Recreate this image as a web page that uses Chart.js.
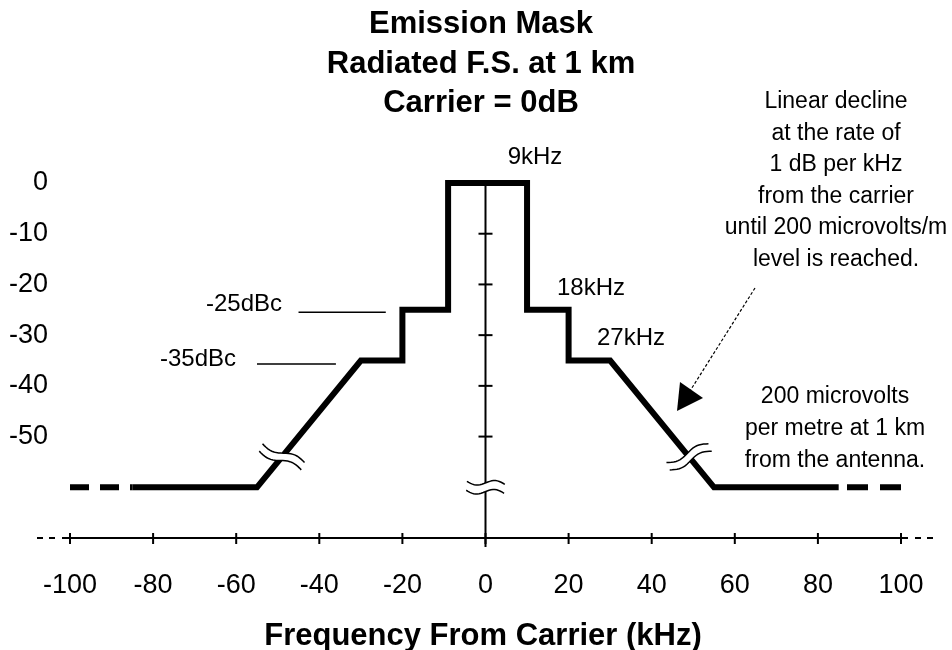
<!DOCTYPE html>
<html>
<head>
<meta charset="utf-8">
<script src="https://cdn.jsdelivr.net/npm/chart.js@4.4.1/dist/chart.umd.min.js"></script>
<style>
  html, body { margin: 0; padding: 0; background: #fff; }
  #wrap { width: 952px; height: 650px; }
</style>
</head>
<body>
<div id="wrap"><canvas id="mask" width="952" height="650"></canvas></div>
<script>
// mask outline (kHz from carrier, dB relative to carrier)
const maskFreq = [-85, -55, -30, -20, -20, -9, -9, 10, 10, 20, 20, 30, 55, 85];
const maskLevel = [-60, -60, -35, -35, -25, -25, 0, 0, -25, -25, -35, -35, -60, -60];
// dashed continuation at the floor
const tailLeftFreq = [-100, -85];
const tailRightFreq = [100, 85];
const tailLevel = [-60, -60];

const xTickValues = [-100, -80, -60, -40, -20, 0, 20, 40, 60, 80, 100];
const yTickValues = [0, -10, -20, -30, -40, -50];

const titleLines = ['Emission Mask', 'Radiated F.S. at 1 km', 'Carrier = 0dB'];
const axisTitle = 'Frequency From Carrier (kHz)';
const declineNote = ['Linear decline', 'at the rate of', '1 dB per kHz', 'from the carrier', 'until 200 microvolts/m', 'level is reached.'];
const floorNote = ['200 microvolts', 'per metre at 1 km', 'from the antenna.'];

const toPoints = (xs, ys) => xs.map((v, i) => ({ x: v, y: ys[i] }));

const TEXT_FONT = '"Liberation Sans", Arial, sans-serif';

function drawBreak(ctx, cx, cy, angle, len, gap) {
    ctx.save();
    ctx.translate(cx, cy);
    ctx.rotate(angle);
    const amp = 3;
    const curve = (off, reverse) => {
        const n = 20;
        for (let i = 0; i <= n; i++) {
            const k = reverse ? n - i : i;
            const t = -len / 2 + len * k / n;
            const yy = off - amp * Math.sin(2 * Math.PI * t / len);
            if (i === 0 && !reverse) ctx.moveTo(t, yy); else ctx.lineTo(t, yy);
        }
    };
    ctx.beginPath();
    curve(-gap / 2, false);
    curve(gap / 2, true);
    ctx.closePath();
    ctx.fillStyle = '#fff';
    ctx.fill();
    ctx.strokeStyle = '#000';
    ctx.lineWidth = 1.5;
    ctx.beginPath(); curve(-gap / 2, false); ctx.stroke();
    ctx.beginPath(); curve(gap / 2, false); ctx.stroke();
    ctx.restore();
}

const extras = {
    id: 'extras',
    beforeDatasetsDraw(chart) {
        const { ctx } = chart;
        const xs = chart.scales.x, ys = chart.scales.y;
        const ay = ys.getPixelForValue(-70);
        const x0 = xs.getPixelForValue(-100), x1 = xs.getPixelForValue(100);
        const cx = xs.getPixelForValue(0);
        ctx.save();
        ctx.strokeStyle = '#000';
        ctx.lineWidth = 2;
        // horizontal axis
        ctx.beginPath();
        ctx.moveTo(x0 - 8, ay); ctx.lineTo(x1 + 7, ay);
        ctx.stroke();
        ctx.setLineDash([6, 6]);
        ctx.beginPath();
        ctx.moveTo(x0 - 33, ay); ctx.lineTo(x0 - 9, ay);
        ctx.moveTo(x1 + 14, ay); ctx.lineTo(x1 + 36, ay);
        ctx.stroke();
        ctx.setLineDash([]);
        xTickValues.forEach(v => {
            const px = xs.getPixelForValue(v);
            ctx.beginPath();
            ctx.moveTo(px, ay - 5); ctx.lineTo(px, ay + 6);
            ctx.stroke();
        });
        // centre vertical axis
        ctx.beginPath();
        ctx.moveTo(cx, ys.getPixelForValue(0)); ctx.lineTo(cx, ay + 9);
        ctx.stroke();
        yTickValues.slice(1).forEach(v => {
            const py = ys.getPixelForValue(v);
            ctx.beginPath();
            ctx.moveTo(cx - 7, py); ctx.lineTo(cx + 7, py);
            ctx.stroke();
        });
        // leader lines for dBc notes
        ctx.lineWidth = 1.5;
        ctx.beginPath();
        ctx.moveTo(xs.getPixelForValue(-45), ys.getPixelForValue(-25.5));
        ctx.lineTo(xs.getPixelForValue(-24), ys.getPixelForValue(-25.5));
        ctx.moveTo(xs.getPixelForValue(-55), ys.getPixelForValue(-35.7));
        ctx.lineTo(xs.getPixelForValue(-36), ys.getPixelForValue(-35.7));
        ctx.stroke();
        ctx.restore();
    },
    afterDatasetsDraw(chart) {
        const { ctx } = chart;
        const xs = chart.scales.x, ys = chart.scales.y;
        // break marks
        drawBreak(ctx, xs.getPixelForValue(-49), ys.getPixelForValue(-54), 0.42, 46, 8);
        drawBreak(ctx, xs.getPixelForValue(49), ys.getPixelForValue(-54), -0.42, 46, 8);
        drawBreak(ctx, xs.getPixelForValue(0), ys.getPixelForValue(-60), 0.08, 38, 9);
        // arrow
        ctx.save();
        ctx.strokeStyle = '#000';
        ctx.lineWidth = 1.2;
        ctx.setLineDash([3, 2]);
        ctx.beginPath();
        ctx.moveTo(755, 288); ctx.lineTo(690, 391);
        ctx.stroke();
        ctx.setLineDash([]);
        ctx.fillStyle = '#000';
        ctx.beginPath();
        ctx.moveTo(677, 411); ctx.lineTo(680, 382); ctx.lineTo(703, 398);
        ctx.closePath();
        ctx.fill();
        ctx.restore();
    },
    afterDraw(chart) {
        const { ctx } = chart;
        ctx.save();
        ctx.fillStyle = '#000';
        ctx.textBaseline = 'alphabetic';
        ctx.textAlign = 'center';
        ctx.font = 'bold 31px ' + TEXT_FONT;
        [33, 73, 112].forEach((b, i) => ctx.fillText(titleLines[i], 481, b));
        ctx.fillText(axisTitle, 483, 645);

        ctx.font = '24px ' + TEXT_FONT;
        ctx.fillText('9kHz', 535, 164);
        ctx.fillText('18kHz', 591, 295);
        ctx.fillText('27kHz', 631, 345);
        ctx.fillText('-25dBc', 244, 311);
        ctx.fillText('-35dBc', 198, 366);

        ctx.font = '23px ' + TEXT_FONT;
        declineNote.forEach((t, i) => ctx.fillText(t, 836, 108 + i * 31.5));
        floorNote.forEach((t, i) => ctx.fillText(t, 835, 403 + i * 32));
        ctx.restore();
    }
};

new Chart(document.getElementById('mask'), {
    type: 'line',
    data: {
        datasets: [
            {
                data: toPoints(maskFreq, maskLevel),
                borderColor: '#000',
                borderWidth: 6,
                borderJoinStyle: 'miter',
                borderCapStyle: 'butt',
                pointRadius: 0,
                fill: false,
                clip: false
            },
            {
                data: toPoints(tailLeftFreq, tailLevel),
                borderColor: '#000',
                borderWidth: 6,
                borderDash: [19, 11],
                borderCapStyle: 'butt',
                pointRadius: 0,
                fill: false,
                clip: false
            },
            {
                data: toPoints(tailRightFreq, tailLevel),
                borderColor: '#000',
                borderWidth: 6,
                borderDash: [21, 12],
                borderCapStyle: 'butt',
                pointRadius: 0,
                fill: false,
                clip: false
            }
        ]
    },
    options: {
        responsive: false,
        animation: false,
        devicePixelRatio: 1,
        layout: { padding: { top: 183, right: 51, left: 0, bottom: 0 } },
        plugins: { legend: { display: false }, tooltip: { enabled: false }, title: { display: false } },
        scales: {
            x: {
                type: 'linear',
                min: -100,
                max: 100,
                grid: { display: false },
                border: { display: false },
                afterBuildTicks: (s) => { s.ticks = xTickValues.map(v => ({ value: v })); },
                afterFit: (s) => { s.height = 112; },
                ticks: {
                    color: '#000',
                    padding: 23,
                    maxRotation: 0,
                    autoSkip: false,
                    font: { family: TEXT_FONT, size: 27 }
                }
            },
            y: {
                type: 'linear',
                min: -70,
                max: 0,
                grid: { display: false },
                border: { display: false },
                afterBuildTicks: (s) => { s.ticks = yTickValues.map(v => ({ value: v })); },
                afterFit: (s) => { s.width = 70; },
                ticks: {
                    color: '#000',
                    padding: 14,
                    autoSkip: false,
                    font: { family: TEXT_FONT, size: 27 }
                }
            }
        }
    },
    plugins: [extras]
});
</script>
</body>
</html>
